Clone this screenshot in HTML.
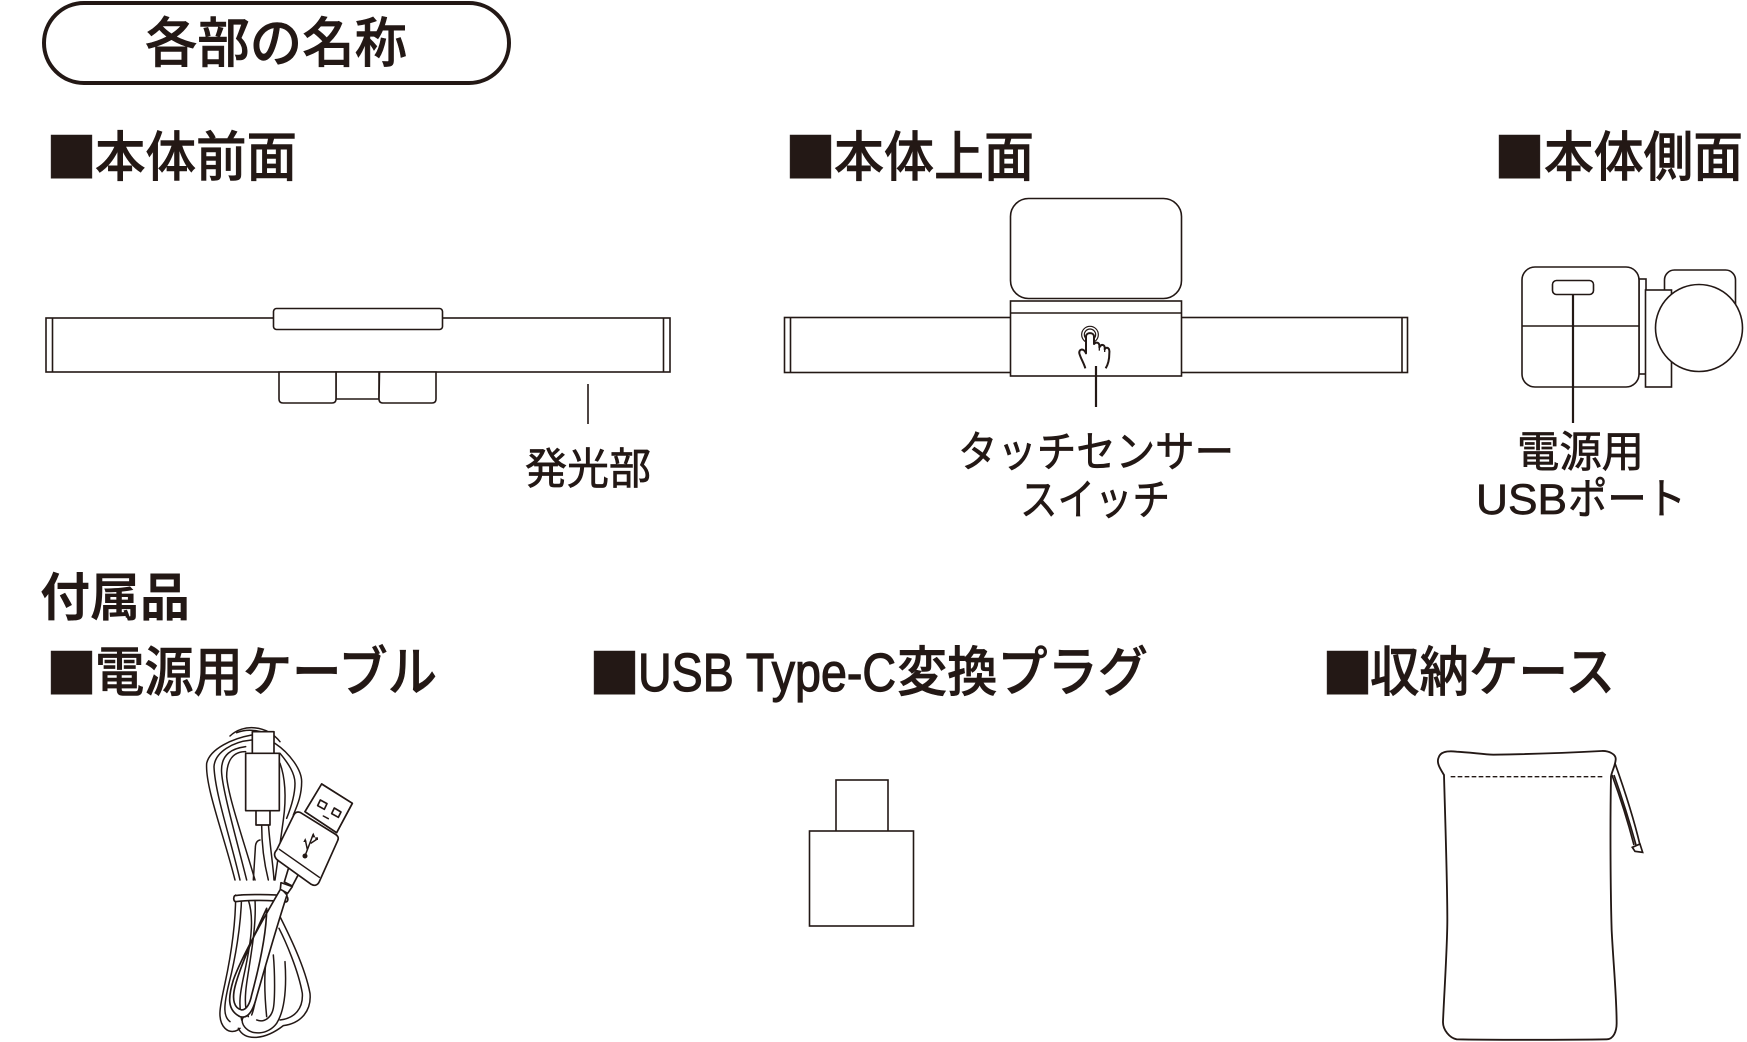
<!DOCTYPE html>
<html lang="ja"><head><meta charset="utf-8"><title>各部の名称</title>
<style>
html,body{margin:0;padding:0;background:#fff;width:1747px;height:1042px;overflow:hidden}
svg{display:block}
text{font-family:"Liberation Sans","Noto Sans CJK JP",sans-serif;fill:#231815}
.j{font-family:"Noto Sans CJK JP",sans-serif}
.h{font-size:54px;font-weight:500;stroke:#231815;stroke-width:.6px}
.l{font-size:43px;font-weight:400;stroke:#231815;stroke-width:.7px}
.s{fill:none;stroke:#231815;stroke-width:1.6}
.w{fill:#fff;stroke:#231815;stroke-width:1.6}
.c{fill:none;stroke:#231815;stroke-width:4.5;stroke-linecap:round}
.cw{fill:#fff;stroke:#231815;stroke-width:5;stroke-linejoin:round}
</style></head><body>
<svg width="1747" height="1042" viewBox="0 0 1747 1042" xmlns="http://www.w3.org/2000/svg">
<rect x="44" y="3" width="465" height="80" rx="40" fill="none" stroke="#231815" stroke-width="4"/>
<text class="j" x="145" y="62" font-size="54" font-weight="500" stroke="#231815" stroke-width=".6" textLength="262" lengthAdjust="spacingAndGlyphs">各部の名称</text>

<g class="j">
<text class="j h" x="46" y="177" textLength="51" lengthAdjust="spacingAndGlyphs">■</text>
<text class="j h" x="95" y="176" textLength="202" lengthAdjust="spacingAndGlyphs">本体前面</text>
<text class="j h" x="785" y="177" textLength="51" lengthAdjust="spacingAndGlyphs">■</text>
<text class="j h" x="834" y="176" textLength="200" lengthAdjust="spacingAndGlyphs">本体上面</text>
<text class="j h" x="1494" y="177" textLength="51" lengthAdjust="spacingAndGlyphs">■</text>
<text class="j h" x="1544" y="176" textLength="199" lengthAdjust="spacingAndGlyphs">本体側面</text>
<text class="j" x="40" y="616" font-size="52" font-weight="700" textLength="150" lengthAdjust="spacingAndGlyphs">付属品</text>
<text class="j h" x="46" y="693" textLength="51" lengthAdjust="spacingAndGlyphs">■</text>
<text class="j h" x="95" y="691" textLength="342" lengthAdjust="spacingAndGlyphs">電源用ケーブル</text>
<text class="j h" x="589" y="693" textLength="51" lengthAdjust="spacingAndGlyphs">■</text>
<text x="638" y="691" font-size="54" font-weight="400" stroke="#231815" stroke-width="1.2" textLength="258" lengthAdjust="spacingAndGlyphs">USB Type-C</text>
<text class="j h" x="897" y="691" textLength="251" lengthAdjust="spacingAndGlyphs">変換プラグ</text>
<text class="j h" x="1322" y="693" textLength="51" lengthAdjust="spacingAndGlyphs">■</text>
<text class="j h" x="1370" y="691" textLength="245" lengthAdjust="spacingAndGlyphs">収納ケース</text>
<text class="j l" x="525" y="484" textLength="126" lengthAdjust="spacingAndGlyphs">発光部</text>
<text class="j l" x="958" y="467" textLength="276" lengthAdjust="spacingAndGlyphs">タッチセンサー</text>
<text class="j l" x="1020" y="515" textLength="150" lengthAdjust="spacingAndGlyphs">スイッチ</text>
<text class="j l" x="1517" y="467" textLength="127" lengthAdjust="spacingAndGlyphs">電源用</text>
<text x="1476" y="514" font-size="43" stroke="#231815" stroke-width=".7" textLength="91" lengthAdjust="spacingAndGlyphs">USB</text>
<text class="j l" x="1568" y="514" textLength="118" lengthAdjust="spacingAndGlyphs">ポート</text>
</g>

<!-- front view -->
<rect class="w" x="46" y="318" width="624" height="54"/>
<path class="s" d="M52.500 318V372M663.500 318V372"/>
<rect class="w" x="273.500" y="308.500" width="169" height="21" rx="3"/>
<path class="w" d="M336 372H379V399H336Z"/>
<path class="w" d="M279 372H336V399Q336 403 332 403H283Q279 403 279 399Z"/>
<path class="w" d="M379.500 372H436V399Q436 403 432 403H383Q379 403 379 399Z"/>
<path class="s" d="M588 384V424"/>

<!-- top view -->
<rect class="w" x="784.500" y="317.500" width="623" height="55"/>
<path class="s" d="M790.500 318V372M1402 318V372"/>
<rect class="w" x="1010.500" y="198.500" width="171" height="100" rx="18"/>
<rect class="w" x="1010.500" y="301" width="171" height="75"/>
<path class="s" d="M1010 313H1182"/>
<g transform="translate(1040,300) scale(.3333)" fill="none" stroke="#231815">
<circle cx="150" cy="104" r="25" stroke-width="3.500"/><circle cx="150" cy="104" r="17" stroke-width="3.500"/>
<path fill="#fff" stroke-width="6" stroke-linejoin="round" d="M136 205C132 190 122 175 118 160C116 147 130 143 138 160V110C138 96 162 96 162 110V132C170 124 180 128 178 142C185 130 196 134 194 148C200 138 210 144 208 160C208 178 205 192 197 205"/>
<path stroke-width="4" d="M178 138V152M194 146V156"/>
</g>
<path class="s" d="M1096 366V407" style="stroke-width:2.200"/>

<!-- side view -->
<rect class="w" x="1664.500" y="270" width="71" height="80" rx="10"/>
<rect class="w" x="1639" y="279" width="7" height="95"/>
<rect class="w" x="1645.500" y="290" width="26" height="97"/>
<circle class="w" cx="1699" cy="328" r="43.500"/>
<rect class="w" x="1522" y="267" width="117" height="120" rx="13"/>
<path class="s" d="M1522 326H1639"/>
<rect class="w" x="1552.500" y="280.500" width="41" height="14" rx="4"/>
<path class="s" d="M1573 295V423" style="stroke-width:2.200"/>

<!-- cable -->
<g transform="translate(180,710) scale(.3333)">
<!-- upper strands -->
<g transform="translate(60,30)">
<path class="c" d="M155 45C100 55 30 85 20 130C15 200 70 340 105 480"/>
<path class="c" d="M155 60C100 65 45 95 42 140C45 220 90 350 120 480"/>
<path class="c" d="M137 80C100 85 60 100 65 160C70 220 110 360 140 480"/>
<path class="c" d="M137 95C100 95 80 120 80 170C85 230 130 360 165 480"/>
<path class="c" d="M90 48C130 10 200 15 240 65"/>
<path class="c" d="M110 38C150 22 195 35 222 52"/>
<path class="c" d="M225 70C270 100 305 150 305 185C305 230 290 260 280 285"/>
<path class="c" d="M240 100C265 130 285 160 285 190C285 230 270 270 260 295"/>
<path class="c" d="M240 130C255 170 260 230 250 300L225 480"/>
<path class="c" d="M205 310C210 380 220 440 222 480"/>
<path class="c" d="M185 315C185 380 195 440 205 480"/>
<path class="c" d="M180 360C170 362 166 372 166 385L160 480"/>
</g>
<!-- lower strands -->
<g transform="translate(75,450)">
<path class="c" d="M92 105C92 200 75 300 60 370C45 440 35 480 60 505C75 520 95 515 105 505"/>
<path class="c" d="M110 105C108 200 90 300 72 370C55 440 55 470 75 485"/>
<path class="c" d="M130 120C150 180 135 260 118 340C105 400 100 430 110 480"/>
<path class="c" d="M150 120C155 200 135 300 125 370C118 420 120 450 130 470"/>
<path class="c" d="M225 170C250 220 300 320 315 400C320 450 290 490 235 497C180 540 120 545 100 505"/>
<path class="c" d="M222 205C240 240 280 330 292 400C295 445 270 475 225 480"/>
<path class="c" d="M205 285C210 340 210 420 205 445C200 470 180 490 155 480"/>
<path class="c" d="M240 305C245 380 240 450 215 490C190 525 135 530 115 495C110 485 110 478 115 472"/>
<path class="c" d="M185 290C175 350 180 420 185 470"/>
<path class="c" d="M165 330C155 400 150 440 140 465"/>
</g>
<path class="cw" d="M164 557C200 552 280 553 320 558C326 566 324 574 318 576C270 570 210 570 166 575C160 572 160 562 164 557Z"/>
<!-- front loop (ring only) -->
<g transform="translate(75,450)">
<path class="cw" fill-rule="evenodd" d="M228 85C190 150 110 290 85 360C70 410 65 450 105 470C130 478 145 450 155 410C175 340 215 200 246 105ZM185 145C150 220 105 320 90 380C80 420 88 445 110 450C125 450 135 430 140 405C160 330 185 220 185 145Z"/>
<path class="cw" d="M228 68L262 80L248 100L226 88Z"/>
<path class="cw" d="M238 66L252 20C262 12 280 25 282 40L262 78Z"/>
</g>
<!-- USB-C plug -->
<path class="cw" d="M228 300H270V345H228Z"/>
<rect class="cw" x="217" y="65" width="65" height="68"/>
<rect class="cw" x="197" y="130" width="101" height="172"/>
<!-- USB-A plug -->
<path class="cw" d="M425 222L517 280L470 368L375 305Z"/>
<path class="cw" d="M425 222L517 280L470 368L375 305Z"/>
<path class="cw" d="M285 440C282 432 284 426 290 420L342 314C346 306 354 304 362 308L465 372C475 378 477 384 473 392L418 515C412 528 402 528 392 522L295 452C290 449 287 445 285 440Z"/>
<path class="c" d="M298 418L418 502"/>
<path class="cw" d="M421 270L441 281L433 298L413 287ZM463 294L483 306L475 322L455 311Z"/>
<path class="c" d="M430 318L445 326"/>
<path d="M375 438L400 372M382 418L376 390M392 400L410 388" fill="none" stroke="#231815" stroke-width="4.500"/>
<path d="M400 368L394 382L406 382Z M376 384L370 396L380 396Z" fill="#231815"/>
<rect x="406" y="382" width="8" height="8" fill="#231815"/>
<circle cx="375" cy="438" r="7.500" fill="#231815"/>
</g>

<!-- adapter -->
<rect class="w" x="836" y="780" width="52" height="52"/>
<rect class="w" x="809.500" y="831" width="104" height="95"/>

<!-- bag -->
<g transform="translate(1420,730) scale(.3333)" fill="none" stroke="#231815">
<path stroke-width="5" d="M585 100C610 170 640 260 660 345M576 135C600 200 625 280 642 345M582 135C605 200 630 280 648 345"/>
<path fill="#fff" stroke-width="5" d="M637 352L660 342L668 367L645 364Z"/>
<path fill="#fff" stroke-width="5.500" d="M72 135C60 115 50 100 55 85C60 65 80 62 110 65C150 67 190 73 220 74C300 73 450 68 545 63C565 62 590 72 587 90C585 110 575 125 573 140C570 300 572 500 575 600C580 700 590 800 590 880C590 905 580 928 560 928C450 930 200 930 110 928C90 925 68 900 69 875C72 800 82 650 82 570C82 450 75 250 72 135Z"/>
<path stroke-width="4" stroke-dasharray="14 7" d="M92 140H547"/>
</g>
</svg>
</body></html>
